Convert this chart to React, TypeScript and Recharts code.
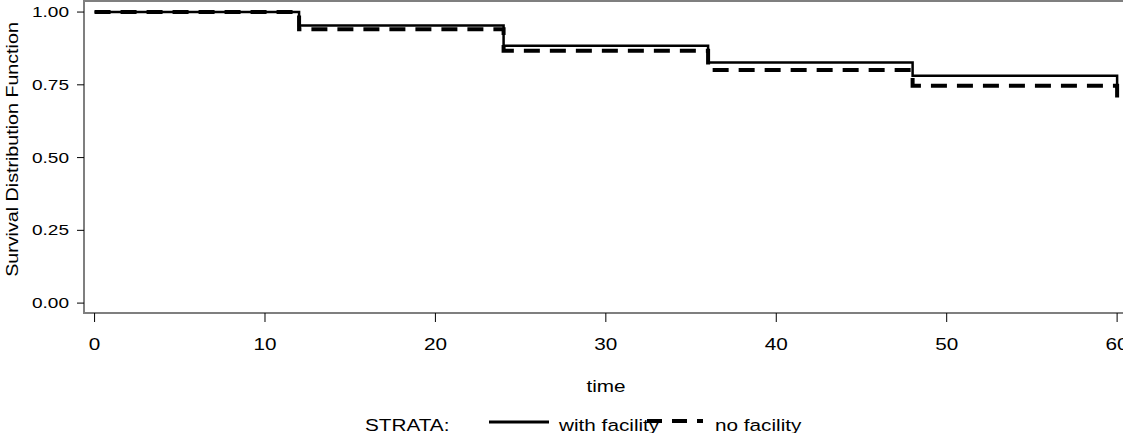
import { LineChart, Line, XAxis, YAxis, ReferenceArea } from "recharts";

// Kaplan-Meier estimates (step drops at each year boundary)
const withTimes = [0, 12, 24, 36, 48, 60];
const withSurvival = [1.0, 0.954, 0.884, 0.827, 0.781, 0.735];
const noTimes = [0, 12, 24, 36, 48, 60];
const noSurvival = [1.0, 0.941, 0.867, 0.801, 0.747, 0.673];

const xTicks = [0, 10, 20, 30, 40, 50, 60];
const yTicks = [0, 0.25, 0.5, 0.75, 1.0];
const xDomain: [number, number] = [-0.62, 60.58];
const yDomain: [number, number] = [-0.034, 1.038];

const withData = withTimes.map((t, i) => ({ time: t, s: withSurvival[i] }));
const noData = noTimes.map((t, i) => ({ time: t, s: noSurvival[i] }));

const FONT = "'Liberation Sans', Arial, sans-serif";

function XTick(props: any) {
  const { x, y, payload } = props;
  return (
    <g transform={`translate(${x},${y})`}>
      <text dy={26.5} textAnchor="middle" transform="scale(1.22,1)" fontSize={17} fontFamily={FONT} fill="#000">
        {payload.value}
      </text>
    </g>
  );
}

function YTick(props: any) {
  const { x, y, payload } = props;
  return (
    <g transform={`translate(${x},${y + 5})`}>
      <text textAnchor="end" transform="scale(1.27,1)" fontSize={15} fontFamily={FONT} fill="#000">
        {Number(payload.value).toFixed(2)}
      </text>
    </g>
  );
}

export default function App() {
  return (
    <div style={{ position: "absolute", left: 0, top: 0, width: 1123, height: 433, overflow: "hidden", background: "#fff" }}>
      <LineChart width={1127} height={433} margin={{ top: 1, right: 0, bottom: 0, left: 0 }}>
        <XAxis
          type="number"
          dataKey="time"
          domain={xDomain}
          ticks={xTicks}
          allowDataOverflow
          height={120}
          tickSize={9}
          axisLine={false}
          tickLine={{ stroke: "#000", strokeWidth: 1 }}
          tick={<XTick />}
        />
        <YAxis
          type="number"
          domain={yDomain}
          ticks={yTicks}
          allowDataOverflow
          width={84}
          tickSize={7}
          tickMargin={8}
          axisLine={false}
          tickLine={{ stroke: "#000", strokeWidth: 1 }}
          tick={<YTick />}
        />
        {/* frame: right edge pushed past the clipped page edge, as in the source */}
        <ReferenceArea
          x1={xDomain[0]}
          x2={xDomain[1] + 5}
          y1={yDomain[0]}
          y2={yDomain[1]}
          fill="none"
          stroke="#7f7f7f"
          strokeWidth={2}
          ifOverflow="visible"
        />
        <Line
          data={withData}
          dataKey="s"
          type="stepAfter"
          stroke="#000"
          strokeWidth={2.5}
          dot={false}
          activeDot={false}
          isAnimationActive={false}
        />
        <Line
          data={noData}
          dataKey="s"
          type="stepAfter"
          stroke="#000"
          strokeWidth={4}
          strokeDasharray="16 10"
          dot={false}
          activeDot={false}
          isAnimationActive={false}
        />
      </LineChart>

      <svg width={1123} height={433} style={{ position: "absolute", left: 0, top: 0, pointerEvents: "none" }}>
        <g transform="translate(18,149.5) rotate(-90) scale(1.23,1)">
          <text textAnchor="middle" fontSize={16} fontFamily={FONT} fill="#000">
            Survival Distribution Function
          </text>
        </g>
        <g transform="translate(606,392) scale(1.22,1)">
          <text textAnchor="middle" fontSize={17} fontFamily={FONT} fill="#000">
            time
          </text>
        </g>
        <g transform="translate(365,431) scale(1.22,1)">
          <text fontSize={17} fontFamily={FONT} fill="#000">STRATA:</text>
        </g>
        <line x1={489} x2={549} y1={422} y2={422} stroke="#000" strokeWidth={3} />
        <g transform="translate(559,431) scale(1.22,1)">
          <text fontSize={17} fontFamily={FONT} fill="#000">with facility</text>
        </g>
        <line x1={647} x2={703} y1={421} y2={421} stroke="#000" strokeWidth={4} strokeDasharray="15 10" />
        <g transform="translate(715,431) scale(1.22,1)">
          <text fontSize={17} fontFamily={FONT} fill="#000">no facility</text>
        </g>
      </svg>
    </div>
  );
}
